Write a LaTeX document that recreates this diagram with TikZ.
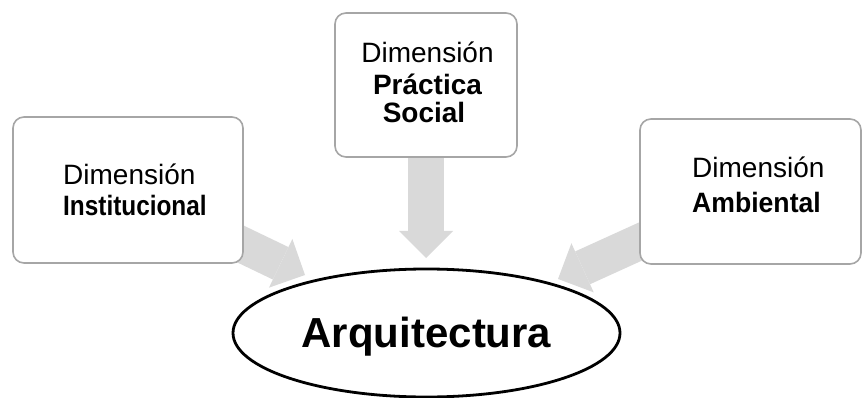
\documentclass[tikz,border=0pt]{standalone}
\usepackage{fontspec}
\setmainfont{Liberation Sans}
\usepackage{graphicx}
\usetikzlibrary{arrows.meta,shapes.geometric,backgrounds}
\definecolor{arrowgray}{HTML}{D9D9D9}
\definecolor{boxgray}{HTML}{A6A6A6}
\begin{document}
\begin{tikzpicture}[x=1pt,y=-1pt,
  dimbox/.style={draw=boxgray, line width=1.6pt, rounded corners=11pt, fill=white, inner sep=0pt},
  fat/.style={arrowgray, line width=36pt, -{Triangle[width=54pt,length=27pt,line width=0pt]}},
  lighttxt/.style={font=\fontsize{28}{30}\selectfont, inner sep=0pt},
  strongtxt/.style={font=\fontsize{28}{30}\selectfont\bfseries, inner sep=0pt},
  core/.style={draw=black, ellipse, line width=2.8pt, minimum width=387pt, minimum height=128pt, inner sep=0pt,
    font=\fontsize{42}{44}\selectfont\bfseries, text height=30pt, text depth=2pt},
]
\useasboundingbox (0,0) rectangle (862,398);
% boxes
\node[dimbox, minimum width=230pt, minimum height=146pt] (L) at (128,190) {};
\node[dimbox, minimum width=182pt, minimum height=144pt] (M) at (426,85) {};
\node[dimbox, minimum width=221pt, minimum height=145pt] (R) at (750.5,191.5) {};
% texts
\node[lighttxt, anchor=base west] (L1) at (63,185) {Dimensión};
\node[strongtxt, anchor=base west] (L2) at (63,215) {\scalebox{0.87}[1]{Institucional}};
\node[lighttxt, anchor=base] (M1) at (427.5,63) {Dimensión};
\node[strongtxt, anchor=base] (M2) at (427.5,95) {Práctica};
\node[strongtxt, anchor=base] (M3) at (424,123) {Social};
\node[lighttxt, anchor=base west] (R1) at (692,178) {Dimensión};
\node[strongtxt, anchor=base west] (R2) at (692,213) {\scalebox{0.95}[1]{Ambiental}};
% central ellipse
\node[core] (E) at (426.5,333) {Arquitectura};
% arrow tips
\coordinate (tipL) at (305,275);
\coordinate (tipM) at (426,258);
\coordinate (tipR) at (558,279);
\begin{scope}[on background layer]
\draw[fat] (L.center) -- (tipL);
\draw[fat] (M.center) -- (tipM);
\draw[fat] (R.center) -- (tipR);
\end{scope}
\end{tikzpicture}
\end{document}
